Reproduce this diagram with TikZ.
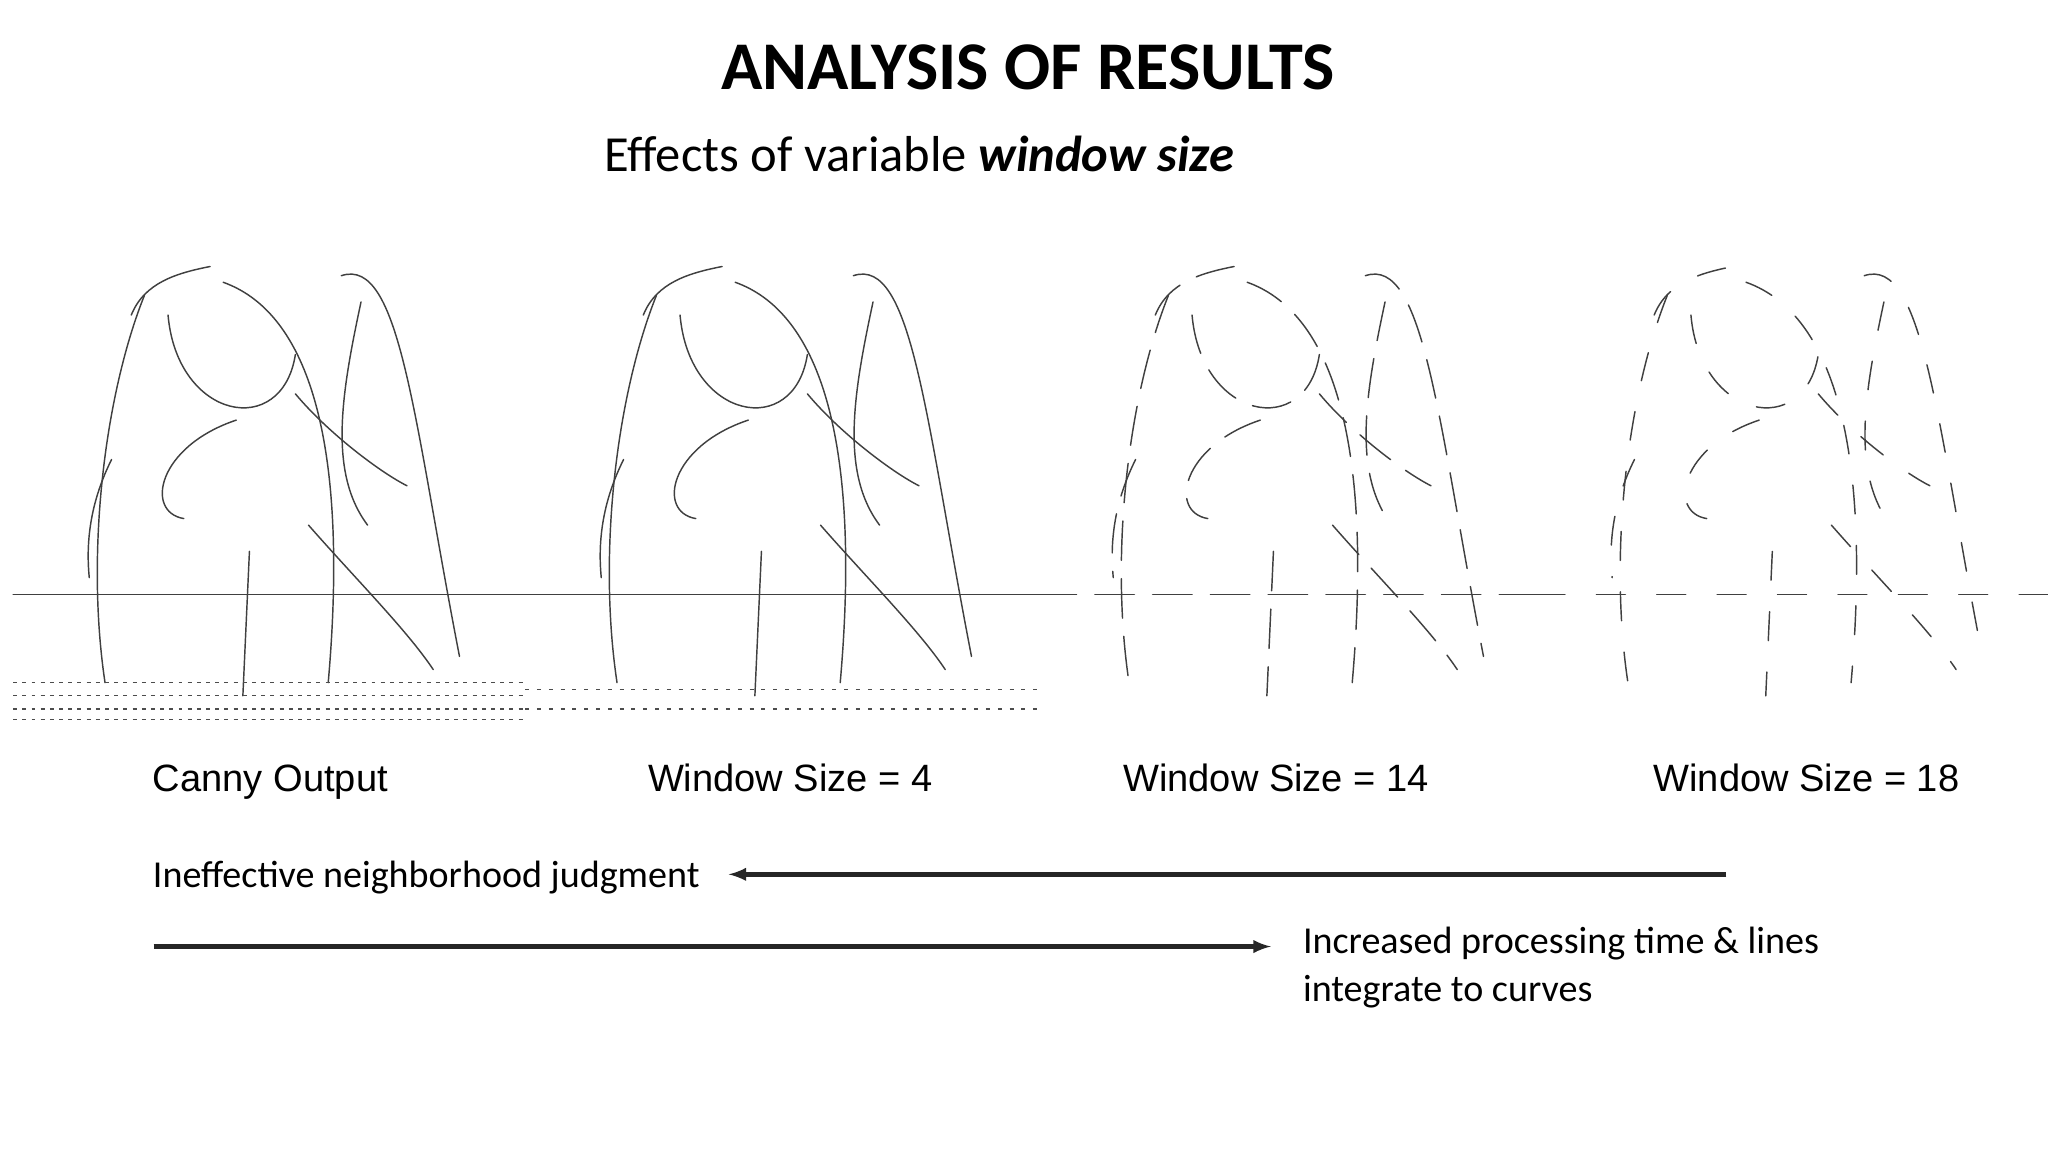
\documentclass[tikz,border=0pt]{standalone}
\usepackage{fontspec}
\setmainfont{Carlito}
\newfontfamily\arialfont{Liberation Sans}
\usetikzlibrary{positioning}

\tikzset{
  edgeline/.style={draw=black!75, line width=1.1pt, line cap=round},
  brokenline/.style={edgeline, dash pattern=on 30pt off 14pt},
  caption/.style={font=\arialfont\fontsize{29}{33}\selectfont, anchor=base},
  note/.style={font=\fontsize{29}{36}\selectfont, anchor=base west, align=left},
  bigarrow/.style={line width=3.5pt, black!85, -latex}
}

% rough penguin outlines, #1 = style of the lines
\newcommand{\penguinsketch}[1]{
  \draw[#1] (0,453) -- (390,453);
  \draw[#1] (100,225) .. controls (70,300) and (55,420) .. (70,520);
  \draw[#1] (90,240) .. controls (100,215) and (125,208) .. (150,203);
  \draw[#1] (118,240) .. controls (125,320) and (205,335) .. (215,270);
  \draw[#1] (160,215) .. controls (230,240) and (255,350) .. (240,520);
  \draw[#1] (250,210) .. controls (295,195) and (305,320) .. (340,500);
  \draw[#1] (170,320) .. controls (110,340) and (100,390) .. (130,395);
  \draw[#1] (215,300) .. controls (240,330) and (280,360) .. (300,370);
  \draw[#1] (265,230) .. controls (250,300) and (240,360) .. (270,400);
  \draw[#1] (75,350) .. controls (60,380) and (55,410) .. (58,440);
  \draw[#1] (180,420) -- (175,530);
  \draw[#1] (225,400) .. controls (260,440) and (300,480) .. (320,510);
}
\newcommand{\grassnoise}{
  \foreach \yy in {520,530,540,548}
    \draw[black!70, line width=1pt, dash pattern=on 3pt off 4pt] (0,\yy) -- (390,\yy);
}

\begin{document}
\begin{tikzpicture}[x=1pt, y=-1pt]
  \useasboundingbox[fill=white] (0,0) rectangle (1560,877.5);

  \node[font=\bfseries\fontsize{52}{60}\selectfont, anchor=base] (title) at (783,68) {ANALYSIS OF RESULTS};
  \node[font=\fontsize{38.5}{44}\selectfont, anchor=base west] (subtitle) at (457,131) {Effects of variable \textbf{\textit{window size}}};

  % panels
  \begin{scope}[shift={(10,0)}]
    \penguinsketch{edgeline}
    \grassnoise
  \end{scope}
  \begin{scope}[shift={(400,0)}]
    \penguinsketch{edgeline}
    \foreach \yy in {525,540}
      \draw[black!70, line width=1pt, dash pattern=on 3pt off 6pt] (0,\yy) -- (390,\yy);
  \end{scope}
  \begin{scope}[shift={(790,0)}]
    \penguinsketch{brokenline}
  \end{scope}
  \begin{scope}[shift={(1170,0)}]
    \penguinsketch{edgeline, dash pattern=on 22pt off 24pt}
  \end{scope}

  \node[caption] (canny) at (206,603) {Canny Output};
  \node[caption] (ws4) at (602,603) {Window Size = 4};
  \node[caption] (ws14) at (972,603) {Window Size = 14};
  \node[caption] (ws18) at (1376,603) {Window Size = 18};

  \node[note] (ineff) at (113,676) {Ineffective neighborhood judgment};
  \coordinate (leftstart) at (1315,666);
  \coordinate (leftend) at (555,666);
  \draw[bigarrow] (leftstart) -- (leftend);

  \node[note, anchor=north west] (incr) at (989,703) {Increased processing time \& lines\\integrate to curves};
  \coordinate (rightstart) at (117,721);
  \coordinate (rightend) at (968,721);
  \draw[bigarrow] (rightstart) -- (rightend);
\end{tikzpicture}
\end{document}
